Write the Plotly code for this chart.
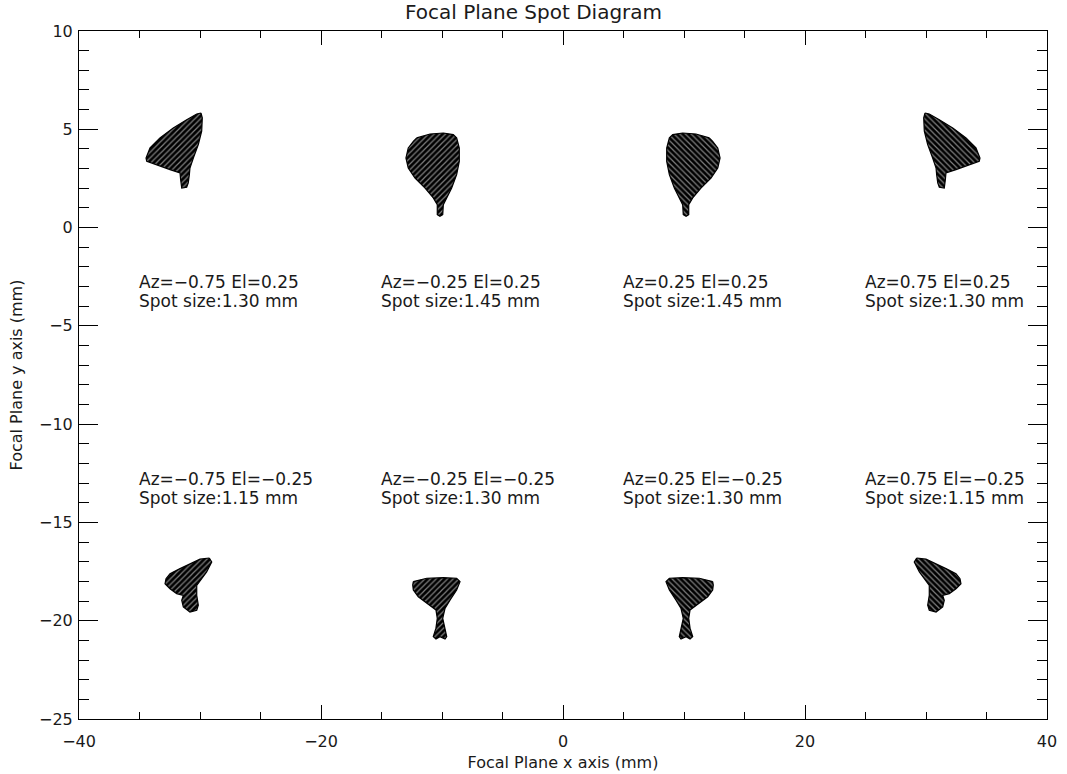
import plotly.graph_objects as go

# Field positions (degrees) and RMS spot sizes (mm)
az_values = [-0.75, -0.25, 0.25, 0.75]
el_values = [0.25, -0.25]
spot_size_upper = [1.30, 1.45, 1.45, 1.30]
spot_size_lower = [1.15, 1.30, 1.30, 1.15]

# Spot footprints (mm) on the focal plane for the negative-Az fields;
# the positive-Az spots are their mirror images in x.
spot_az075_el025_x = [-29.92, -29.81, -29.86, -30.14, -30.55, -30.83, -30.88, -30.97, -31.10, -31.51,
                      -31.60, -31.65, -32.48, -33.58, -34.40, -34.46, -34.13, -33.31, -32.21, -31.10, -30.27]
spot_az075_el025_y = [5.83, 5.58, 4.90, 4.22, 3.54, 3.03, 2.69, 2.27, 2.05, 2.01,
                      2.44, 2.78, 2.95, 3.20, 3.37, 3.54, 4.05, 4.56, 5.07, 5.49, 5.78]

spot_az025_el025_x = [-12.09, -10.99, -9.89, -9.07, -8.79, -8.57, -8.57, -8.79, -9.20, -9.61, -9.89,
                      -9.94, -10.17, -10.39, -10.39, -10.72, -11.40, -12.23, -12.79, -12.98, -12.79, -12.37]
spot_az025_el025_y = [4.56, 4.76, 4.81, 4.73, 4.56, 4.05, 3.37, 2.69, 2.01, 1.51, 1.16,
                      0.66, 0.57, 0.66, 1.16, 1.51, 2.01, 2.52, 3.03, 3.54, 4.05, 4.39]

spot_az075_elm025_x = [-29.23, -29.03, -29.45, -30.00, -30.27, -30.27, -30.14, -30.27, -30.83, -31.38,
                       -31.51, -31.38, -31.93, -32.48, -32.89, -32.81, -32.48, -31.65, -30.83, -30.00]
spot_az075_elm025_y = [-16.81, -17.01, -17.52, -17.94, -18.20, -18.71, -19.21, -19.47, -19.56, -19.30,
                       -18.96, -18.71, -18.62, -18.37, -18.12, -17.86, -17.61, -17.35, -17.10, -16.87]

spot_az025_elm025_x = [-12.37, -11.26, -9.89, -8.79, -8.51, -8.79, -9.34, -9.75, -9.94, -9.75, -9.61,
                       -9.75, -10.17, -10.50, -10.72, -10.50, -10.39, -10.50, -11.26, -11.96, -12.37, -12.42]
spot_az025_elm025_y = [-18.01, -17.84, -17.81, -17.84, -18.01, -18.44, -18.95, -19.37, -19.88, -20.47, -20.81,
                       -20.93, -20.81, -20.93, -20.81, -20.38, -19.88, -19.45, -19.11, -18.78, -18.44, -18.18]

upper_spots = [(spot_az075_el025_x, spot_az075_el025_y), (spot_az025_el025_x, spot_az025_el025_y)]
lower_spots = [(spot_az075_elm025_x, spot_az075_elm025_y), (spot_az025_elm025_x, spot_az025_elm025_y)]

FONT = "DejaVu Sans"
INK = "#1a1a1a"

fig = go.Figure()


def add_spot(xs, ys, hatch):
    # dense ray pattern: black body with thin light gaps between the ray rows
    fig.add_trace(go.Scatter(
        x=xs + [xs[0]], y=ys + [ys[0]], mode="lines", fill="toself",
        line=dict(color="black", width=1.2),
        fillpattern=dict(shape=hatch, fgcolor="white", bgcolor="black",
                         size=4, solidity=0.3),
        hoverinfo="skip", showlegend=False,
    ))


for row in (upper_spots, lower_spots):
    for xs, ys in row:
        add_spot(xs, ys, "/")
        add_spot([-v for v in xs], ys, "\\")


def fmt(v):
    return f"{v:.2f}".replace("-", "\u2212")


label_x = [-35, -15, 5, 25]
rows = [(el_values[0], spot_size_upper, -2.78, -3.76),
        (el_values[1], spot_size_lower, -12.78, -13.76)]
for el, sizes, y1, y2 in rows:
    for lx, az, s in zip(label_x, az_values, sizes):
        fig.add_annotation(x=lx, y=y1, xanchor="left", yanchor="middle", showarrow=False, xshift=-3,
                           text=f"Az={fmt(az)} El={fmt(el)}", font=dict(family=FONT, size=17, color=INK))
        fig.add_annotation(x=lx, y=y2, xanchor="left", yanchor="middle", showarrow=False, xshift=-3,
                           text=f"Spot size:{s:.2f} mm", font=dict(family=FONT, size=17, color=INK))

axis_common = dict(showline=True, linecolor="black", linewidth=1, mirror="allticks",
                   ticks="inside", tickcolor="black", tickwidth=1, showgrid=False,
                   zeroline=False, automargin=False, tickfont=dict(family=FONT, size=16, color=INK))

fig.update_xaxes(range=[-40, 40], dtick=20, tick0=0, ticklen=14, ticklabelstandoff=8,
                 minor=dict(dtick=5, ticklen=7, ticks="inside", tickcolor="black", showgrid=False),
                 title=dict(text="Focal Plane x axis (mm)", font=dict(family=FONT, size=16, color=INK),
                            standoff=6),
                 **axis_common)
fig.update_yaxes(range=[-25, 10], dtick=5, tick0=0, ticklen=19, ticklabelstandoff=2,
                 minor=dict(dtick=1, ticklen=10, ticks="inside", tickcolor="black", showgrid=False),
                 title=dict(text="Focal Plane y axis (mm)", font=dict(family=FONT, size=16, color=INK),
                            standoff=12),
                 **axis_common)

fig.update_layout(
    width=1067, height=774,
    margin=dict(l=79, r=20, t=31, b=55),
    paper_bgcolor="white", plot_bgcolor="white",
    title=dict(text="Focal Plane Spot Diagram", x=0.5, xanchor="center", y=0.985, yanchor="middle",
               font=dict(family=FONT, size=20, color=INK)),
)

fig.write_html("out.html")
